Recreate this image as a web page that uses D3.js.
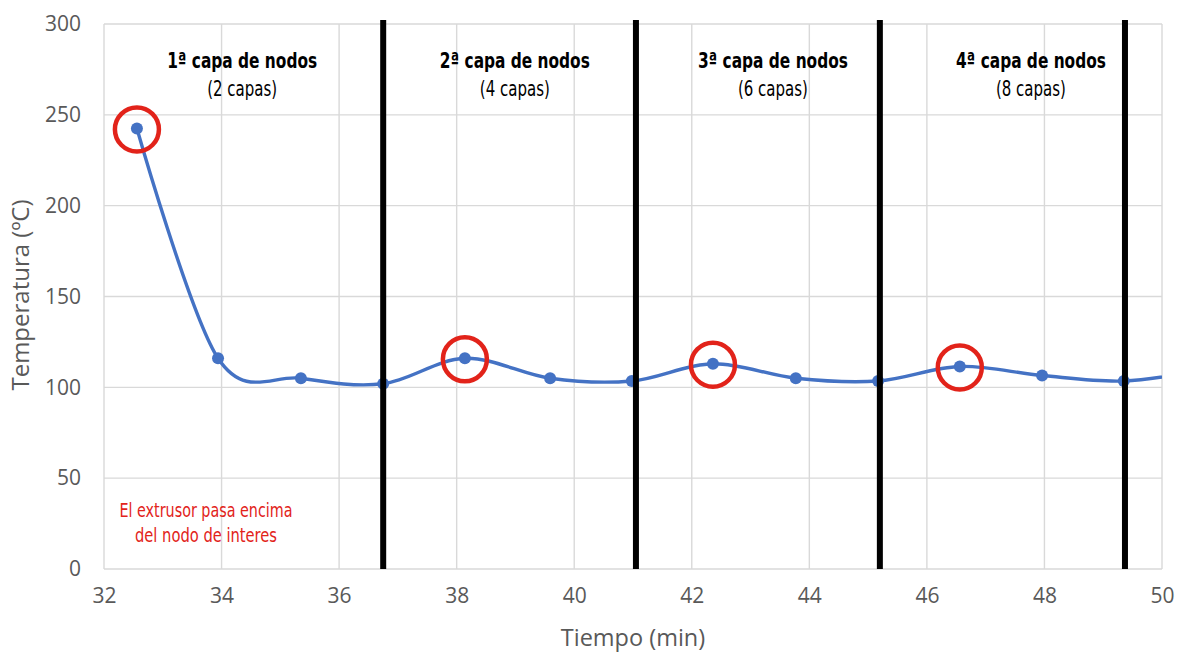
<!DOCTYPE html>
<html>
<head>
<meta charset="utf-8">
<script src="https://cdn.jsdelivr.net/npm/d3@7"></script>
<style>
  html, body { margin: 0; padding: 0; background: #fff; }
  svg { display: block; }
  .tick text { font-family: "Open Sans", "DejaVu Sans", sans-serif; }
</style>
</head>
<body>
<svg id="chart" width="1187" height="653"></svg>
<script>
// Measured temperature of the node over time
const times = [32.56, 33.94, 35.35, 36.75, 38.14, 39.59, 40.98, 42.36, 43.77, 45.17, 46.56, 47.96, 49.35, 50.75];
const temps = [242.5, 116, 105, 102, 116, 105, 103.5, 113, 105, 103.5, 111.5, 106.5, 103.5, 110];

// Points where the extruder passes over the node
const peakIndex = [0, 4, 7, 10];

// Boundaries between node layers (min)
const layerBounds = [36.75, 41.05, 45.2, 49.37];

// Layer headings
const layerTitles = ["1ª capa de nodos", "2ª capa de nodos", "3ª capa de nodos", "4ª capa de nodos"];
const layerSubtitles = ["(2 capas)", "(4 capas)", "(6 capas)", "(8 capas)"];
const layerCenters = [34.35, 38.99, 43.38, 47.77];

// Axis ticks
const xTicks = [32, 34, 36, 38, 40, 42, 44, 46, 48, 50];
const yTicks = [0, 50, 100, 150, 200, 250, 300];

const svg = d3.select("#chart");
const x = d3.scaleLinear().domain([32, 50]).range([104, 1162]);
const y = d3.scaleLinear().domain([0, 300]).range([569, 24]);

const gridColor = "#d9d9d9";
const tickColor = "#595959";
const sans = "'Open Sans', 'DejaVu Sans', sans-serif";
const narrow = "'Liberation Sans Narrow', 'DejaVu Sans Condensed', 'Open Sans', sans-serif";

// Gridlines
svg.append("g").selectAll("line").data(yTicks).join("line")
  .attr("x1", x(32)).attr("x2", x(50))
  .attr("y1", d => y(d)).attr("y2", d => y(d))
  .attr("stroke", gridColor).attr("stroke-width", 1.4);
svg.append("g").selectAll("line").data(xTicks).join("line")
  .attr("x1", d => x(d)).attr("x2", d => x(d))
  .attr("y1", y(0)).attr("y2", y(300))
  .attr("stroke", gridColor).attr("stroke-width", 1.4);

// Axes (labels only; domain lines hidden)
const xAxis = svg.append("g")
  .attr("transform", `translate(0,${y(0)})`)
  .call(d3.axisBottom(x).tickValues(xTicks).tickSize(0).tickPadding(19).tickFormat(d3.format("d")));
xAxis.select(".domain").remove();
xAxis.selectAll("text").attr("font-size", 21).attr("fill", tickColor);

const yAxis = svg.append("g")
  .attr("transform", `translate(${x(32)},0)`)
  .call(d3.axisLeft(y).tickValues(yTicks).tickSize(0).tickPadding(23).tickFormat(d3.format("d")));
yAxis.select(".domain").remove();
yAxis.selectAll("text").attr("font-size", 21).attr("fill", tickColor);

// Axis titles
svg.append("text")
  .attr("x", 633).attr("y", 646)
  .attr("text-anchor", "middle")
  .attr("font-family", sans)
  .attr("font-size", 23.5).attr("fill", tickColor)
  .text("Tiempo (min)");
svg.append("text")
  .attr("transform", `translate(29,295) rotate(-90)`)
  .attr("text-anchor", "middle")
  .attr("font-family", sans)
  .attr("font-size", 24).attr("fill", tickColor)
  .text("Temperatura (ºC)");

// Clip to the plotting area
svg.append("defs").append("clipPath").attr("id", "plot-clip")
  .append("rect").attr("x", x(32)).attr("y", y(300) - 5)
  .attr("width", x(50) - x(32)).attr("height", y(0) - y(300) + 10);

const data = times.map((t, i) => ({ t, v: temps[i] }));
const blue = "#4472c4";

const plot = svg.append("g").attr("clip-path", "url(#plot-clip)");
plot.append("path")
  .datum(data)
  .attr("fill", "none")
  .attr("stroke", blue)
  .attr("stroke-width", 3.4)
  .attr("d", d3.line().x(d => x(d.t)).y(d => y(d.v)).curve(d3.curveCardinal.tension(0)));
plot.selectAll("circle.pt").data(data).join("circle")
  .attr("class", "pt")
  .attr("cx", d => x(d.t)).attr("cy", d => y(d.v))
  .attr("r", 6).attr("fill", blue);

// Layer boundaries
svg.append("g").selectAll("line").data(layerBounds).join("line")
  .attr("x1", d => x(d)).attr("x2", d => x(d))
  .attr("y1", y(300) - 4).attr("y2", y(0))
  .attr("stroke", "#000").attr("stroke-width", 6);

// Highlight rings on extruder passes
svg.append("g").selectAll("circle").data(peakIndex.map(i => data[i])).join("circle")
  .attr("cx", d => x(d.t)).attr("cy", d => y(d.v) + 1)
  .attr("r", 22).attr("fill", "none")
  .attr("stroke", "#e2231a").attr("stroke-width", 4.5);

// Layer headings
const heads = svg.append("g");
heads.selectAll("text.title").data(layerTitles).join("text")
  .attr("class", "title")
  .attr("x", (d, i) => x(layerCenters[i])).attr("y", 68)
  .attr("text-anchor", "middle")
  .attr("font-family", narrow).attr("font-weight", "bold")
  .attr("font-size", 21).attr("fill", "#000")
  .attr("textLength", 150).attr("lengthAdjust", "spacingAndGlyphs")
  .text(d => d);
heads.selectAll("text.sub").data(layerSubtitles).join("text")
  .attr("class", "sub")
  .attr("x", (d, i) => x(layerCenters[i])).attr("y", 96)
  .attr("text-anchor", "middle")
  .attr("font-family", narrow)
  .attr("font-size", 21).attr("fill", "#000")
  .attr("textLength", 70).attr("lengthAdjust", "spacingAndGlyphs")
  .text(d => d);

// Note
const note = svg.append("text")
  .attr("text-anchor", "middle")
  .attr("font-family", narrow)
  .attr("font-size", 19).attr("fill", "#e2231a");
note.append("tspan").attr("x", 206).attr("y", 517)
  .attr("textLength", 173).attr("lengthAdjust", "spacingAndGlyphs")
  .text("El extrusor pasa encima");
note.append("tspan").attr("x", 206).attr("y", 542)
  .attr("textLength", 142).attr("lengthAdjust", "spacingAndGlyphs")
  .text("del nodo de interes");
</script>
</body>
</html>
